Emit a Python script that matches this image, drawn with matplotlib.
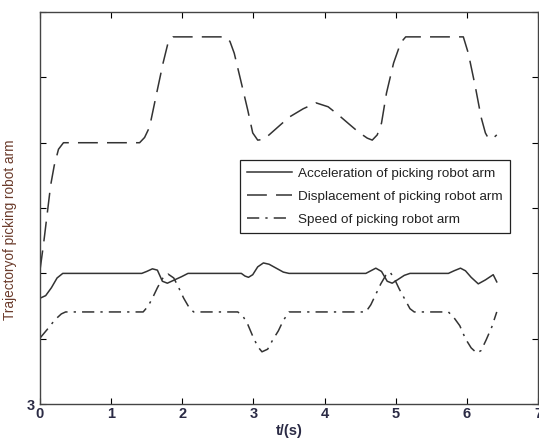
import matplotlib
matplotlib.use("Agg")
import matplotlib.pyplot as plt

# values
t_acc = [0, 0.08, 0.16, 0.24, 0.32, 1.43, 1.50, 1.58, 1.65, 1.72, 1.79, 1.89, 1.99, 2.08,
         2.83, 2.88, 2.93, 2.99, 3.06, 3.14, 3.22, 3.32, 3.42, 3.50, 4.58, 4.65, 4.72,
         4.80, 4.88, 4.95, 5.05, 5.12, 5.20, 5.74, 5.82, 5.91, 5.98, 6.06, 6.16, 6.26,
         6.37, 6.42]
acc = [4.62, 4.66, 4.78, 4.93, 5.00, 5.00, 5.03, 5.07, 5.05, 4.88, 4.85, 4.90, 4.95, 5.00,
       5.00, 4.96, 4.94, 4.98, 5.10, 5.16, 5.14, 5.08, 5.02, 5.00, 5.00, 5.04, 5.08,
       5.03, 4.88, 4.85, 4.92, 4.97, 5.00, 5.00, 5.04, 5.08, 5.04, 4.94, 4.84, 4.90,
       4.98, 4.87]

t_dis = [0, 0.05, 0.10, 0.15, 0.20, 0.26, 0.33, 1.40, 1.47, 1.54, 1.64, 1.73, 1.80, 1.87,
         2.61, 2.67, 2.73, 2.82, 2.92, 2.99, 3.06, 3.14, 3.22, 3.50, 3.70, 3.88, 4.05,
         4.20, 4.35, 4.48, 4.60, 4.67, 4.74, 4.80, 4.87, 4.97, 5.07, 5.14, 5.95, 6.02,
         6.12, 6.20, 6.26, 6.30, 6.36, 6.42]
dis = [5.05, 5.45, 5.90, 6.35, 6.65, 6.90, 7.00, 7.00, 7.08, 7.24, 7.76, 8.22, 8.53, 8.62,
       8.62, 8.55, 8.37, 7.96, 7.50, 7.15, 7.04, 7.05, 7.12, 7.39, 7.52, 7.61, 7.55,
       7.42, 7.28, 7.16, 7.07, 7.04, 7.12, 7.30, 7.76, 8.22, 8.53, 8.62, 8.62, 8.37,
       7.85, 7.39, 7.15, 7.07, 7.06, 7.12]

t_spd = [0, 0.10, 0.21, 0.30, 0.36, 1.45, 1.52, 1.58, 1.65, 1.72, 1.80, 1.88, 1.95, 2.02,
         2.10, 2.16, 2.78, 2.85, 2.92, 2.99, 3.06, 3.12, 3.20, 3.27, 3.35, 3.42, 3.50,
         4.58, 4.65, 4.72, 4.79, 4.86, 4.92, 4.98, 5.05, 5.12, 5.20, 5.26, 5.74, 5.82,
         5.90, 5.98, 6.06, 6.14, 6.20, 6.27, 6.35, 6.42]
spd = [4.01, 4.14, 4.29, 4.38, 4.41, 4.41, 4.50, 4.62, 4.78, 4.92, 4.99, 4.93, 4.78, 4.62,
       4.47, 4.41, 4.41, 4.35, 4.22, 4.04, 3.88, 3.80, 3.84, 3.98, 4.12, 4.28, 4.41,
       4.41, 4.52, 4.68, 4.84, 4.97, 5.02, 4.92, 4.76, 4.62, 4.46, 4.41, 4.41, 4.32,
       4.20, 4.00, 3.86, 3.78, 3.82, 3.98, 4.18, 4.41]

labels = ["Acceleration of picking robot arm",
          "Displacement of picking robot arm",
          "Speed of picking robot arm"]
x_ticks = [0, 1, 2, 3, 4, 5, 6, 7]
y_ticks = [3, 4, 5, 6, 7, 8, 9]
y_tick_labels = ["3", "", "", "", "", "", ""]

plt.rcParams['font.family'] = ['Liberation Sans', 'DejaVu Sans']

fig = plt.figure(figsize=(5.39, 4.46), dpi=100)
ax = fig.add_axes([0.0742, 0.094, 0.924, 0.879])

line_col = '#333333'
ax.plot(t_acc, acc, color=line_col, lw=1.1, label=labels[0])
ax.plot(t_dis, dis, color=line_col, lw=1.1, linestyle=(0, (13, 6)), label=labels[1])
ax.plot(t_spd, spd, color=line_col, lw=1.1, linestyle=(0, (8, 4, 1.5, 4)), label=labels[2])

ax.set_xlim(0, 7)
ax.set_ylim(3, 9)
ax.set_xticks(x_ticks)
ax.set_yticks(y_ticks)
ax.set_yticklabels(y_tick_labels)

tick_col = '#2b2b45'
ax.tick_params(direction='in', length=4, width=0.8, top=True, right=True,
               labelsize=10.5, labelcolor=tick_col, pad=2)
ax.tick_params(axis='y', pad=4)
for lab in ax.get_xticklabels() + ax.get_yticklabels():
    lab.set_fontweight('bold')
for s in ax.spines.values():
    s.set_color('#444444')
    s.set_linewidth(1.0)

ax.set_xlabel('t/(s)', fontsize=10.5, fontweight='bold', color=tick_col, labelpad=2)
ax.set_ylabel('Trajectoryof picking robot arm', fontsize=9.8, color='#6b3b2b')
ax.yaxis.set_label_coords(-0.046, 0.444)

leg = ax.legend(loc='upper left', bbox_to_anchor=(0.401, 0.622), borderaxespad=0,
                fancybox=False, framealpha=1, edgecolor='#222222', fontsize=9.7,
                handlelength=3.3, labelspacing=0.78, handletextpad=0.45,
                borderpad=0.55)
leg.get_frame().set_linewidth(0.9)
for txt in leg.get_texts():
    txt.set_color('#222222')

fig.savefig('out.png', dpi=100)
